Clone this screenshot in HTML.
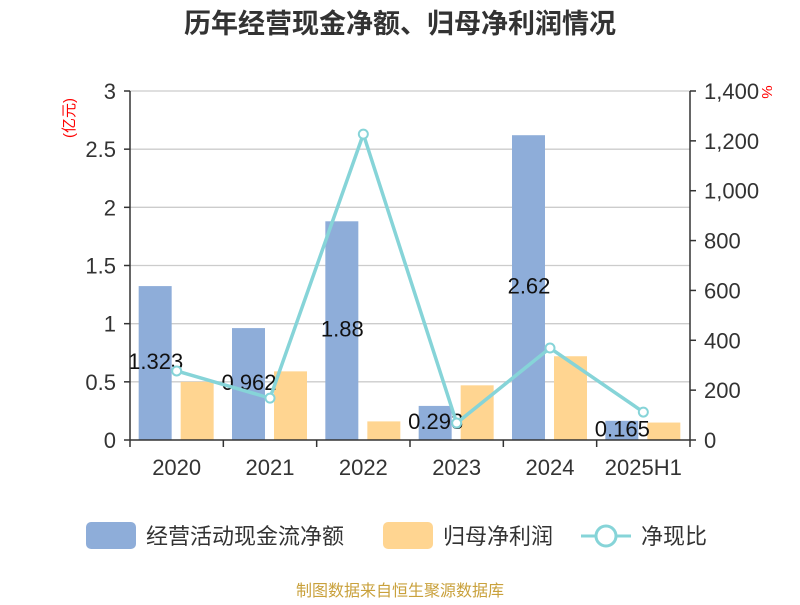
<!DOCTYPE html>
<html><head><meta charset="utf-8"><style>
body{margin:0;background:#fff;font-family:"Liberation Sans","Noto Sans CJK SC",sans-serif}
</style></head><body>
<svg width="800" height="600" xmlns="http://www.w3.org/2000/svg" font-family="Liberation Sans, Noto Sans CJK SC, sans-serif">
<text x="400" y="33" text-anchor="middle" font-size="27" font-weight="bold" fill="#333">历年经营现金净额、归母净利润情况</text>
<text transform="translate(74,118) rotate(-90)" text-anchor="middle" font-size="15" fill="red">(亿元)</text>
<text transform="translate(762,92) rotate(90)" text-anchor="middle" font-size="15" fill="red">%</text>
<g id="grid"></g><g id="bars"></g><g id="line"></g><g id="axes"></g>
<g>
<rect x="86" y="522" width="50" height="27" rx="5" fill="#8eadd9"/>
<text x="146" y="544" font-size="22" fill="#333">经营活动现金流净额</text>
<rect x="383" y="522" width="50" height="27" rx="5" fill="#ffd591"/>
<text x="443" y="544" font-size="22" fill="#333">归母净利润</text>
<line x1="581" y1="536" x2="631" y2="536" stroke="#86d4d8" stroke-width="3"/>
<circle cx="606" cy="536" r="10" fill="#fff" stroke="#86d4d8" stroke-width="3"/>
<text x="641" y="544" font-size="22" fill="#333">净现比</text>
</g>
<text x="400" y="596" text-anchor="middle" font-size="16" fill="#c9a13c">制图数据来自恒生聚源数据库</text>
</svg>
<script>
const categories=["2020","2021","2022","2023","2024","2025H1"];
const cashFlow=[1.323,0.962,1.88,0.293,2.62,0.165];
const netProfit=[0.5,0.59,0.16,0.47,0.72,0.15];
const ratio=[277,168,1227,68,369,112];
const leftTicks=[0,0.5,1,1.5,2,2.5,3];
const rightTicks=[0,200,400,600,800,1000,1200,1400];
const NS="http://www.w3.org/2000/svg";
const L=130,R=690,T=91,B=440;
const bw=(R-L)/categories.length;
const yL=v=>B-v/3*(B-T);
const yR=v=>B-v/1400*(B-T);
const xc=i=>L+bw*(i+0.5);
function mk(tag,attrs,parent,txt){const e=document.createElementNS(NS,tag);for(const k in attrs)e.setAttribute(k,attrs[k]);if(txt!==undefined)e.textContent=txt;document.getElementById(parent).appendChild(e);return e;}
leftTicks.forEach(t=>{
 if(t>0){const g=mk('line',{x1:L,x2:R,y1:yL(t),y2:yL(t),stroke:'#ccc','stroke-width':1.3},'grid');
 
 }
 const tl=mk('line',{x1:L-6,x2:L,y1:yL(t),y2:yL(t),stroke:'#333','stroke-width':1.5},'axes');
 
 
 const tx=mk('text',{x:L-14,y:yL(t)+8,'text-anchor':'end','font-size':22,fill:'#333'},'axes',String(t));
 
 
});
rightTicks.forEach(t=>{
 const tl=mk('line',{x1:R,x2:R+6,y1:yR(t),y2:yR(t),stroke:'#333','stroke-width':1.5},'axes');
 
 
 const tx=mk('text',{x:R+14,y:yR(t)+8,'font-size':22,fill:'#333'},'axes',t.toLocaleString('en-US'));
 
 
});
const al=mk('line',{x1:L,x2:L,y1:T,y2:B,stroke:'#333','stroke-width':1.5},'axes');


const ar=mk('line',{x1:R,x2:R,y1:T,y2:B,stroke:'#333','stroke-width':1.5},'axes');


const ab=mk('line',{x1:L,x2:R,y1:B,y2:B,stroke:'#333','stroke-width':1.5},'axes');


for(let i=0;i<=categories.length;i++){
 const tk=mk('line',{x1:L+bw*i,x2:L+bw*i,y1:B,y2:B+7,stroke:'#333','stroke-width':1.5},'axes');
 
 
}
categories.forEach((c,i)=>{
 const tx=mk('text',{x:xc(i),y:B+35,'text-anchor':'middle','font-size':22,fill:'#333'},'axes',c);
 
 
 const b1=mk('rect',{x:xc(i)-38,y:yL(cashFlow[i]),width:33,height:B-yL(cashFlow[i]),fill:'#8eadd9'},'bars');
 
 
 const b2=mk('rect',{x:xc(i)+4,y:yL(netProfit[i]),width:33,height:B-yL(netProfit[i]),fill:'#ffd591'},'bars');
 
 
});
categories.forEach((c,i)=>{
 const lb=mk('text',{x:xc(i)-21,y:(yL(cashFlow[i])+B)/2+6,'text-anchor':'middle','font-size':22,fill:'#111'},'bars',String(cashFlow[i]));
 
 
});
const pts=ratio.map((v,i)=>xc(i)+','+yR(v)).join(' ');
const pl=mk('polyline',{points:pts,fill:'none',stroke:'#86d4d8','stroke-width':3.5},'line');


ratio.forEach((v,i)=>{
 const cc=mk('circle',{cx:xc(i),cy:yR(v),r:4.5,fill:'#fff',stroke:'#86d4d8','stroke-width':2},'line');
 
 
});
</script>
</body></html>
